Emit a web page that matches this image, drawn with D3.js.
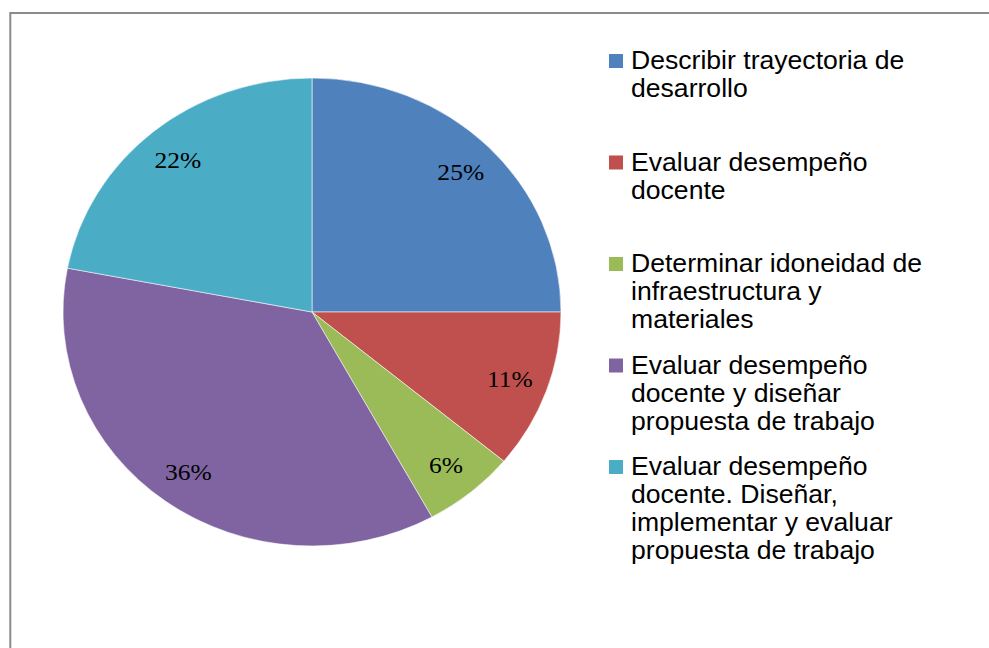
<!DOCTYPE html>
<html>
<head>
<meta charset="utf-8">
<script src="https://cdn.jsdelivr.net/npm/d3@7"></script>
<style>
  html, body { margin: 0; padding: 0; background: #fff; }
  svg { display: block; }
</style>
</head>
<body>
<svg id="chart" width="989" height="648"></svg>
<script>
// data
const categories = [
  'Describir trayectoria de desarrollo',
  'Evaluar desempeño docente',
  'Determinar idoneidad de infraestructura y materiales',
  'Evaluar desempeño docente y diseñar propuesta de trabajo',
  'Evaluar desempeño docente. Diseñar, implementar y evaluar propuesta de trabajo'
];
const values = [25, 11, 6, 36, 22];
const colors = ['#4f81bd', '#c0504d', '#9bbb59', '#8064a2', '#4bacc6'];
// legend wrapping as in the original
const legendLines = [
  ['Describir trayectoria de', 'desarrollo'],
  ['Evaluar desempeño', 'docente'],
  ['Determinar idoneidad de', 'infraestructura y', 'materiales'],
  ['Evaluar desempeño', 'docente y diseñar', 'propuesta de trabajo'],
  ['Evaluar desempeño', 'docente. Diseñar,', 'implementar y evaluar', 'propuesta de trabajo']
];

const width = 989;
const height = 648;
const svg = d3.select('#chart');

// the original is slightly stretched horizontally
const sx = 1.064;
const cx = 312, cy = 312;
const r = 234;

// frame
svg.append('rect')
  .attr('x', 10.3)
  .attr('y', 13)
  .attr('width', width)
  .attr('height', height)
  .attr('fill', 'none')
  .attr('stroke', '#8a8a8a')
  .attr('stroke-width', 2);

const pie = d3.pie().sort(null).value(d => d);
const arcs = pie(values);

const arc = d3.arc().innerRadius(0).outerRadius(r);
const labelArc = d3.arc().innerRadius(r * 0.845).outerRadius(r * 0.845);

const pieG = svg.append('g')
  .attr('transform', `translate(${cx},${cy}) scale(${sx},1)`);

pieG.selectAll('path')
  .data(arcs)
  .join('path')
    .attr('d', arc)
    .attr('fill', (d, i) => colors[i])
    .attr('stroke', '#ffffff')
    .attr('stroke-opacity', 0.55)
    .attr('stroke-width', 1)
    .attr('vector-effect', 'non-scaling-stroke');

const total = d3.sum(values);

svg.append('g')
  .selectAll('text')
  .data(arcs)
  .join('text')
    .attr('transform', d => {
      const [x, y] = labelArc.centroid(d);
      return `translate(${cx + x * sx},${cy + y}) scale(${sx},1)`;
    })
    .attr('text-anchor', 'middle')
    .attr('dy', '0.34em')
    .attr('font-family', '"Liberation Serif", "DejaVu Serif", serif')
    .attr('font-size', 24)
    .attr('fill', '#000')
    .text(d => Math.round(d.data / total * 100) + '%');

// legend
const legendX = 609;
const firstBaseline = 69;
const lastBaseline = 475;
const lineHeight = 28;
const legendY = d3.scalePoint()
  .domain(d3.range(categories.length))
  .range([firstBaseline, lastBaseline]);

const legend = svg.append('g')
  .selectAll('g')
  .data(categories)
  .join('g')
    .attr('transform', (d, i) => `translate(${legendX},${legendY(i)})`);

legend.append('rect')
  .attr('x', 0)
  .attr('y', -15)
  .attr('width', 14)
  .attr('height', 14)
  .attr('fill', (d, i) => colors[i]);

legend.each(function (d, i) {
  const g = d3.select(this);
  legendLines[i].forEach((line, j) => {
    g.append('text')
      .attr('transform', `translate(22,${j * lineHeight}) scale(${sx},1)`)
      .attr('font-family', '"Liberation Sans", Arial, sans-serif')
      .attr('font-size', 25)
      .attr('fill', '#000')
      .text(line);
  });
});
</script>
</body>
</html>
